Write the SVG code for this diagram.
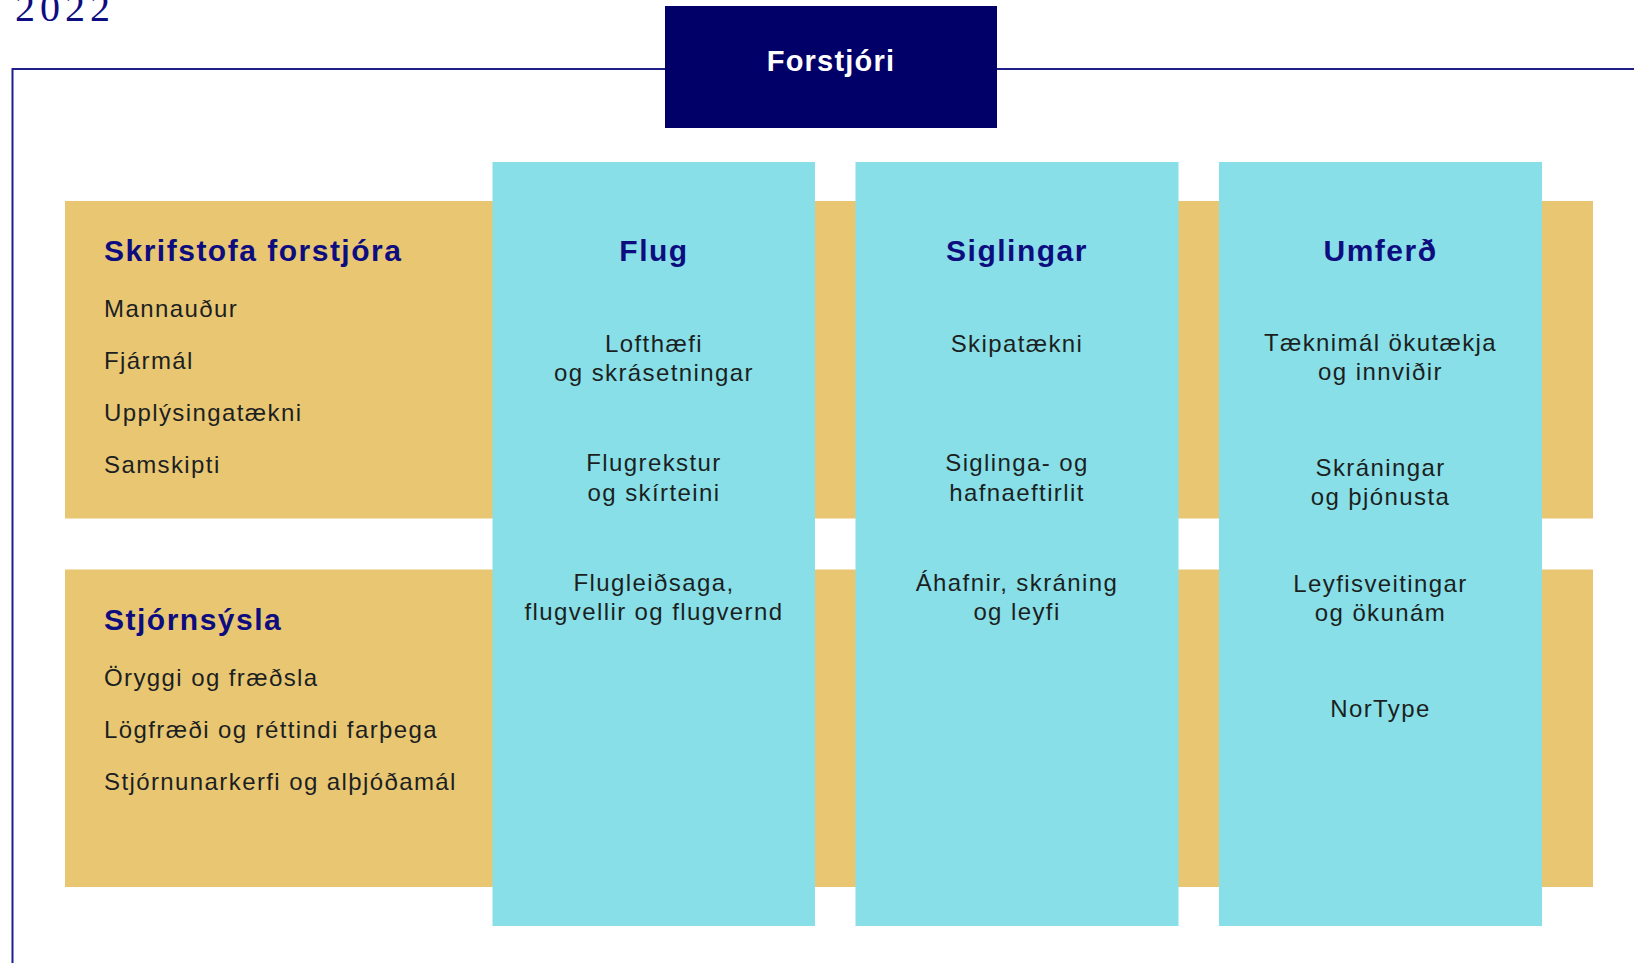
<svg xmlns="http://www.w3.org/2000/svg" width="1634" height="963" viewBox="0 0 1634 963">
<style>
.band{fill:#E9C772}
.col{fill:#88DFE7}
.h{font-family:"Liberation Sans",Arial,sans-serif;font-weight:bold;font-size:30px;fill:#0D0D80;letter-spacing:1.5px}
.t{font-family:"Liberation Sans",Arial,sans-serif;font-size:24px;fill:#1c1f22;letter-spacing:1.4px}
.c{text-anchor:middle}
.frame{fill:none;stroke:#1f1f8a;stroke-width:2}
</style>
<rect width="1634" height="963" fill="#ffffff"/>
<text x="15" y="21" font-family="'Liberation Serif',serif" font-size="40" letter-spacing="5" fill="#0D0D80">2022</text>
<g id="connectors">
<path class="frame" d="M12.5,963 V69 H1634"/>
</g>
<g id="forstjori">
<rect x="665" y="6" width="332" height="122" fill="#000068"/>
<text x="831" y="71" text-anchor="middle" font-family="'Liberation Sans',Arial,sans-serif" font-weight="bold" font-size="29" letter-spacing="1.2" fill="#ffffff">Forstjóri</text>
</g>
<g id="skrifstofa">
<rect class="band" x="65" y="201" width="1528" height="317.5"/>
<text class="h" x="104" y="261">Skrifstofa forstjóra</text>
<text class="t" x="104" y="317">Mannauður</text>
<text class="t" x="104" y="369">Fjármál</text>
<text class="t" x="104" y="421">Upplýsingatækni</text>
<text class="t" x="104" y="473">Samskipti</text>
</g>
<g id="stjornsysla">
<rect class="band" x="65" y="569.5" width="1528" height="317.5"/>
<text class="h" x="104" y="630">Stjórnsýsla</text>
<text class="t" x="104" y="686">Öryggi og fræðsla</text>
<text class="t" x="104" y="738">Lögfræði og réttindi farþega</text>
<text class="t" x="104" y="790">Stjórnunarkerfi og alþjóðamál</text>
</g>
<g id="flug">
<rect class="col" x="492.5" y="162" width="322.5" height="764"/>
<text class="h c" x="654" y="261">Flug</text>
<text class="t c" x="654" y="352">Lofthæfi</text>
<text class="t c" x="654" y="381">og skrásetningar</text>
<text class="t c" x="654" y="471">Flugrekstur</text>
<text class="t c" x="654" y="501">og skírteini</text>
<text class="t c" x="654" y="591">Flugleiðsaga,</text>
<text class="t c" x="654" y="620">flugvellir og flugvernd</text>
</g>
<g id="siglingar">
<rect class="col" x="855.5" y="162" width="323" height="764"/>
<text class="h c" x="1017" y="261">Siglingar</text>
<text class="t c" x="1017" y="352">Skipatækni</text>
<text class="t c" x="1017" y="471">Siglinga- og</text>
<text class="t c" x="1017" y="501">hafnaeftirlit</text>
<text class="t c" x="1017" y="591">Áhafnir, skráning</text>
<text class="t c" x="1017" y="620">og leyfi</text>
</g>
<g id="umferd">
<rect class="col" x="1219" y="162" width="323" height="764"/>
<text class="h c" x="1380.5" y="261">Umferð</text>
<text class="t c" x="1380.5" y="351">Tæknimál ökutækja</text>
<text class="t c" x="1380.5" y="380">og innviðir</text>
<text class="t c" x="1380.5" y="476">Skráningar</text>
<text class="t c" x="1380.5" y="505">og þjónusta</text>
<text class="t c" x="1380.5" y="592">Leyfisveitingar</text>
<text class="t c" x="1380.5" y="621">og ökunám</text>
<text class="t c" x="1380.5" y="717">NorType</text>
</g>
</svg>
